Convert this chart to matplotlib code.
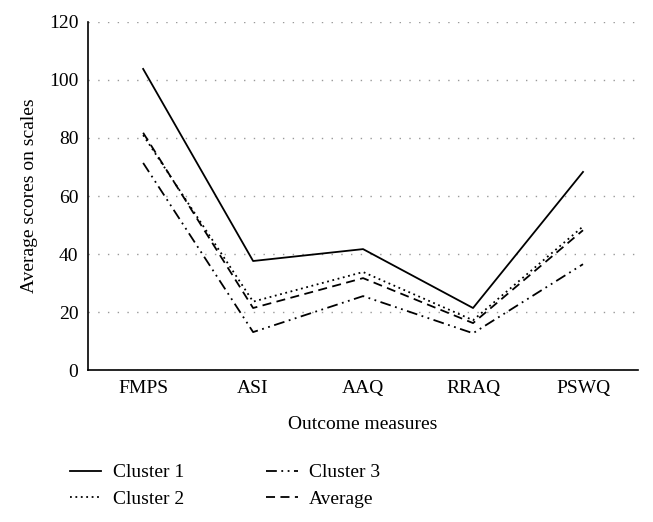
import numpy as np
import matplotlib.pyplot as plt

plt.rcParams.update({
    "font.family": "serif",
    "font.serif": ["Liberation Serif", "DejaVu Serif"],
    "font.size": 14,
})

measures = ["FMPS", "ASI", "AAQ", "RRAQ", "PSWQ"]
cluster1 = [103.8, 37.6, 41.7, 21.4, 68.3]
cluster2 = [81.0, 23.6, 33.8, 17.2, 49.5]
cluster3 = [71.4, 13.1, 25.5, 12.7, 36.5]
average = [81.8, 21.4, 31.7, 16.2, 48.2]

fig = plt.figure(figsize=(6.53, 5.22), dpi=100)
ax = fig.add_axes([0.135, 0.291, 0.842, 0.667])

x = np.arange(len(measures))
lw = 1.3
ax.plot(x, cluster1, color="black", lw=lw, linestyle="-", label="Cluster 1")
ax.plot(x, cluster2, color="black", lw=lw, linestyle=(0, (1, 2)), label="Cluster 2")
ax.plot(x, cluster3, color="black", lw=lw, linestyle=(0, (6, 2.5, 1, 2.5, 1, 2.5)), label="Cluster 3")
ax.plot(x, average, color="black", lw=lw, linestyle=(0, (5, 3)), label="Average")

ax.set_xlim(-0.5, len(measures) - 0.5)
ax.set_ylim(0, 120)
ax.set_yticks(np.arange(0, 121, 20))
ax.set_xticks(x)
ax.set_xticklabels(measures)
ax.yaxis.grid(True, linestyle=(0, (1, 6)), color="#999999", lw=1)
ax.set_axisbelow(True)
ax.tick_params(length=0, pad=7)
for side in ["top", "right"]:
    ax.spines[side].set_visible(False)
ax.spines["left"].set_linewidth(1.2)
ax.spines["bottom"].set_linewidth(1.2)

ax.set_xlabel("Outcome measures", labelpad=14)
ax.set_ylabel("Average scores on scales", labelpad=8)

fig.legend(loc="upper left", bbox_to_anchor=(0.08, 0.145), ncol=2, frameon=False,
           handlelength=1.6, columnspacing=4.25, labelspacing=0.45, handletextpad=0.6)

fig.savefig("out.png", dpi=100)
